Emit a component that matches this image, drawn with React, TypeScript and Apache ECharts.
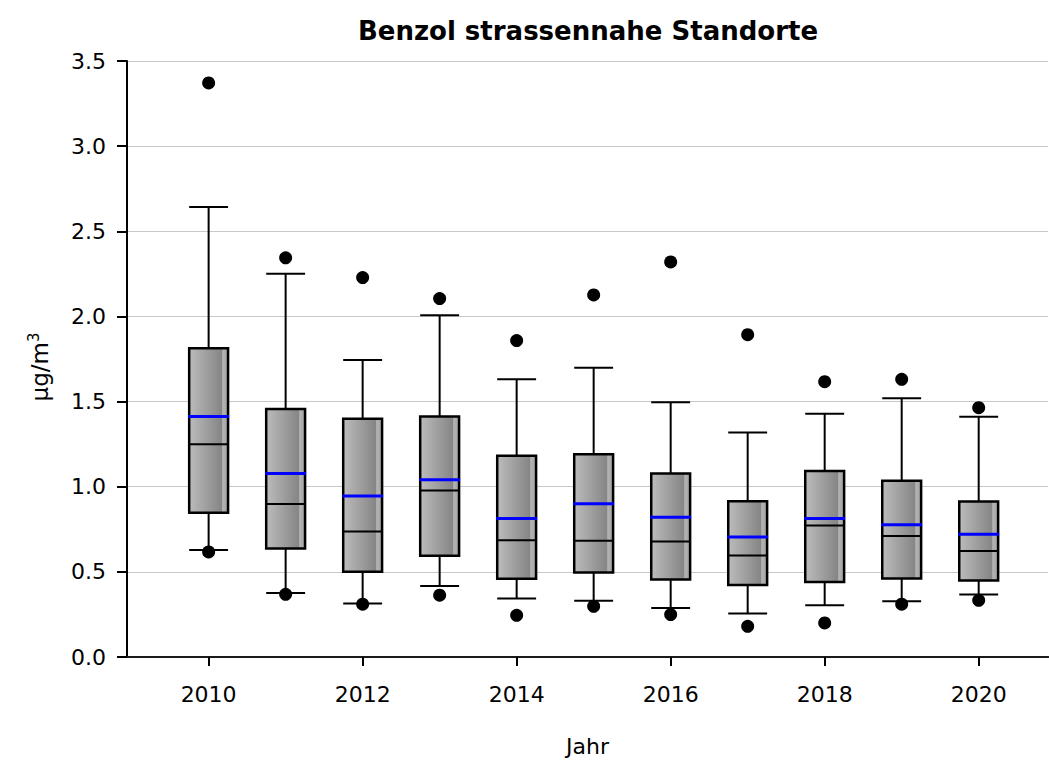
import React, { useEffect, useRef } from "react";
import * as echarts from "echarts";

// Annual distribution of benzene concentrations at roadside sites (µg/m³)
const years = [2010, 2011, 2012, 2013, 2014, 2015, 2016, 2017, 2018, 2019, 2020];
const whiskerLow = [0.629, 0.376, 0.314, 0.417, 0.343, 0.331, 0.288, 0.255, 0.304, 0.327, 0.367];
const quartile1 = [0.847, 0.637, 0.5, 0.594, 0.459, 0.496, 0.455, 0.423, 0.441, 0.461, 0.449];
const medians = [1.249, 0.898, 0.737, 0.978, 0.686, 0.682, 0.678, 0.596, 0.772, 0.71, 0.623];
const means = [1.413, 1.078, 0.945, 1.041, 0.814, 0.9, 0.82, 0.704, 0.814, 0.776, 0.721];
const quartile3 = [1.813, 1.456, 1.399, 1.413, 1.182, 1.19, 1.078, 0.915, 1.092, 1.035, 0.913];
const whiskerHigh = [2.642, 2.25, 1.744, 2.007, 1.631, 1.699, 1.496, 1.319, 1.429, 1.519, 1.411];
const extremeHigh = [3.371, 2.344, 2.228, 2.105, 1.858, 2.126, 2.32, 1.893, 1.617, 1.631, 1.464];
const extremeLow = [0.617, 0.368, 0.31, 0.363, 0.245, 0.298, 0.249, 0.18, 0.2, 0.31, 0.333];
const labelYears = [2010, 2012, 2014, 2016, 2018, 2020];
const yTicks = [0, 0.5, 1.0, 1.5, 2.0, 2.5, 3.0, 3.5];

const BOX_WIDTH = 0.505; // in years
const FONT = "DejaVu Sans";

export default function App() {
  const ref = useRef<HTMLDivElement>(null);

  useEffect(() => {
    if (!ref.current) return;
    const chart = echarts.init(ref.current, null, { renderer: "svg" });

    const boxData = years.map((y, i) => [
      y,
      whiskerLow[i],
      quartile1[i],
      medians[i],
      means[i],
      quartile3[i],
      whiskerHigh[i],
    ]);
    const outlierData = [
      ...years.map((y, i) => [y, extremeHigh[i]]),
      ...years.map((y, i) => [y, extremeLow[i]]),
    ];

    const boxFill = new echarts.graphic.LinearGradient(0, 0, 1, 0, [
      { offset: 0, color: "#bcbcbc" },
      { offset: 0.84, color: "#858585" },
      { offset: 0.86, color: "#b4b4b4" },
      { offset: 0.95, color: "#a8a8a8" },
      { offset: 1, color: "#8a8a8a" },
    ]);

    const renderBox = (params: any, api: any) => {
      const x = api.value(0);
      const half = api.size([BOX_WIDTH, 0])[0] / 2;
      const pWl = api.coord([x, api.value(1)]);
      const pQ1 = api.coord([x, api.value(2)]);
      const pMed = api.coord([x, api.value(3)]);
      const pMean = api.coord([x, api.value(4)]);
      const pQ3 = api.coord([x, api.value(5)]);
      const pWh = api.coord([x, api.value(6)]);
      const cx = pQ1[0];
      const line = (x1: number, y1: number, x2: number, y2: number, color: string, w: number) => ({
        type: "line",
        shape: { x1, y1, x2, y2 },
        style: { stroke: color, lineWidth: w },
      });
      return {
        type: "group",
        children: [
          line(cx, pWl[1], cx, pQ1[1], "#000", 2),
          line(cx, pQ3[1], cx, pWh[1], "#000", 2),
          line(cx - half, pWl[1], cx + half, pWl[1], "#000", 2),
          line(cx - half, pWh[1], cx + half, pWh[1], "#000", 2),
          {
            type: "rect",
            shape: { x: cx - half, y: pQ3[1], width: half * 2, height: pQ1[1] - pQ3[1] },
            style: { fill: boxFill, stroke: "#000", lineWidth: 2.5 },
          },
          line(cx - half, pMed[1], cx + half, pMed[1], "#000", 2),
          line(cx - half - 1, pMean[1], cx + half + 1, pMean[1], "#0000ff", 3),
        ],
      };
    };

    chart.setOption({
      animation: false,
      backgroundColor: "#ffffff",
      textStyle: { fontFamily: FONT },
      graphic: [
        {
          type: "text",
          x: 588,
          y: 31,
          style: {
            text: "Benzol strassennahe Standorte",
            align: "center",
            verticalAlign: "middle",
            font: `bold 26px "${FONT}"`,
            fill: "#000",
          },
        },
        {
          type: "text",
          x: 40,
          y: 367,
          rotation: Math.PI / 2,
          style: {
            text: "{u|µg/m}{s|3}",
            align: "center",
            verticalAlign: "middle",
            fill: "#000",
            rich: {
              u: { fontSize: 23, fontFamily: FONT, fill: "#000" },
              s: { fontSize: 15, fontFamily: FONT, fill: "#000", verticalAlign: "top", padding: [0, 0, 12, 0] },
            },
          },
        },
      ],
      grid: { left: 127, right: 1, top: 61, bottom: 107, outerBoundsMode: "none" },
      xAxis: [
        {
          type: "value",
          min: 2008.94,
          max: 2020.9,
          name: "Jahr",
          nameLocation: "middle",
          nameGap: 78,
          nameTextStyle: { fontSize: 22, color: "#000", fontFamily: FONT },
          axisLine: { show: true, onZero: false, lineStyle: { color: "#000", width: 2 } },
          axisTick: {
            show: true,
            length: 9,
            customValues: labelYears,
            lineStyle: { color: "#000", width: 2 },
          },
          axisLabel: {
            customValues: labelYears,
            margin: 26,
            fontSize: 22,
            color: "#000",
            fontFamily: FONT,
            formatter: (v: number) => String(Math.round(v)),
          },
          splitLine: { show: false },
        },
        {
          type: "value",
          position: "top",
          min: 2008.94,
          max: 2020.9,
          axisLine: { show: true, lineStyle: { color: "#1a1a1a", width: 2 } },
          axisTick: { show: false },
          axisLabel: { show: false },
          splitLine: { show: false },
        },
      ],
      yAxis: {
        type: "value",
        min: 0,
        max: 3.5,
        interval: 0.5,
        axisLine: { show: true, lineStyle: { color: "#000", width: 2 } },
        axisTick: { show: true, length: 10, lineStyle: { color: "#000", width: 2 } },
        axisLabel: {
          margin: 21,
          fontSize: 22,
          color: "#000",
          fontFamily: FONT,
          customValues: yTicks,
          formatter: (v: number) => v.toFixed(1),
        },
        splitLine: { show: true, lineStyle: { color: "#c8c8c8", width: 1 } },
      },
      series: [
        {
          type: "custom",
          renderItem: renderBox,
          data: boxData,
          encode: { x: 0, y: [1, 2, 3, 4, 5, 6] },
          z: 2,
        },
        {
          type: "scatter",
          data: outlierData,
          symbol: "circle",
          symbolSize: 13,
          itemStyle: { color: "#000", opacity: 1 },
          z: 3,
        },
      ],
    });

    return () => chart.dispose();
  }, []);

  return (
    <div
      ref={ref}
      style={{ position: "fixed", left: 0, top: 0, width: 1049, height: 764, background: "#fff" }}
    />
  );
}
